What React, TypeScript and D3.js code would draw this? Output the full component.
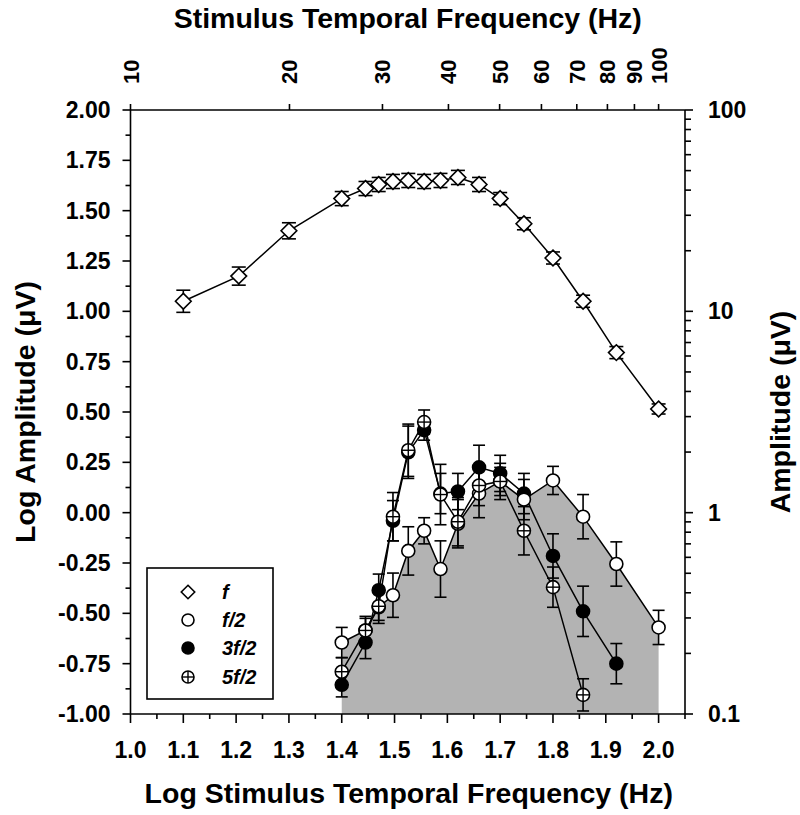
import React from "react";
import * as d3 from "d3";

// ---------- data ----------
const fLogFreq = [1.1, 1.205, 1.3, 1.4, 1.445, 1.47, 1.497, 1.526, 1.556, 1.587, 1.62, 1.66, 1.7, 1.745, 1.8, 1.857, 1.92, 2.0];
const fValues = [1.05, 1.175, 1.4, 1.56, 1.61, 1.63, 1.645, 1.65, 1.645, 1.65, 1.665, 1.63, 1.56, 1.435, 1.265, 1.05, 0.795, 0.515];
const fErrors = [0.055, 0.045, 0.04, 0.035, 0.035, 0.035, 0.035, 0.035, 0.035, 0.035, 0.035, 0.035, 0.03, 0.03, 0.03, 0.03, 0.03, 0.025];

const halfLogFreq = [1.4, 1.445, 1.47, 1.497, 1.526, 1.556, 1.587, 1.62, 1.66, 1.7, 1.745, 1.8, 1.857, 1.92, 2.0];
const halfValues = [-0.645, -0.585, -0.47, -0.41, -0.19, -0.09, -0.28, -0.055, 0.095, 0.155, 0.065, 0.16, -0.02, -0.255, -0.57];
const halfErrors = [0.075, 0.07, 0.08, 0.11, 0.12, 0.065, 0.14, 0.12, 0.12, 0.09, 0.1, 0.07, 0.11, 0.11, 0.085];

const threeHalfLogFreq = [1.4, 1.445, 1.47, 1.497, 1.526, 1.556, 1.587, 1.62, 1.66, 1.7, 1.745, 1.8, 1.857, 1.92];
const threeHalfValues = [-0.855, -0.645, -0.385, -0.04, 0.3, 0.41, 0.095, 0.105, 0.225, 0.195, 0.095, -0.215, -0.49, -0.75];
const threeHalfErrors = [0.06, 0.08, 0.08, 0.1, 0.13, 0.05, 0.1, 0.09, 0.11, 0.09, 0.1, 0.11, 0.125, 0.1];

const fiveHalfLogFreq = [1.4, 1.445, 1.47, 1.497, 1.526, 1.556, 1.587, 1.62, 1.66, 1.7, 1.745, 1.8, 1.857];
const fiveHalfValues = [-0.79, -0.585, -0.465, -0.02, 0.31, 0.45, 0.09, -0.045, 0.135, 0.155, -0.09, -0.37, -0.905];
const fiveHalfErrors = [0.07, 0.06, 0.07, 0.12, 0.13, 0.06, 0.15, 0.12, 0.1, 0.07, 0.12, 0.1, 0.08];

const xTickLabels = ["1.0", "1.1", "1.2", "1.3", "1.4", "1.5", "1.6", "1.7", "1.8", "1.9", "2.0"];
const yTickLabels = ["-1.00", "-0.75", "-0.50", "-0.25", "0.00", "0.25", "0.50", "0.75", "1.00", "1.25", "1.50", "1.75", "2.00"];
const topTickHz = [10, 20, 30, 40, 50, 60, 70, 80, 90, 100];
const rightMajor = [0.1, 1, 10, 100];
const rightLabels = ["0.1", "1", "10", "100"];
const legendLabels = ["f", "f/2", "3f/2", "5f/2"];

// ---------- layout ----------
const W = 800;
const H = 815;
const x = d3.scaleLinear().domain([1, 2.05]).range([130.5, 685]);
const y = d3.scaleLinear().domain([-1, 2]).range([714, 110]);
const yR = d3.scaleLog().domain([0.1, 100]).range([714, 110]);

const FONT = "'Liberation Sans', Arial, Helvetica, sans-serif";
const GRAY = "#b3b3b3";

type Kind = "diamond" | "open" | "filled" | "cross";

function Marker({ cx, cy, kind, s }: { cx: number; cy: number; kind: Kind; s: number }) {
  if (kind === "diamond") {
    const r = s * 1.12;
    return (
      <path
        d={`M${cx},${cy - r}L${cx + r},${cy}L${cx},${cy + r}L${cx - r},${cy}Z`}
        fill="white"
        stroke="black"
        strokeWidth={1.6}
      />
    );
  }
  if (kind === "cross") {
    return (
      <g>
        <circle cx={cx} cy={cy} r={s} fill="white" stroke="black" strokeWidth={1.6} />
        <line x1={cx - s} x2={cx + s} y1={cy} y2={cy} stroke="black" strokeWidth={1.4} />
        <line x1={cx} x2={cx} y1={cy - s} y2={cy + s} stroke="black" strokeWidth={1.4} />
      </g>
    );
  }
  return (
    <circle cx={cx} cy={cy} r={s} fill={kind === "filled" ? "black" : "white"} stroke="black" strokeWidth={1.6} />
  );
}

function Series({
  xs,
  vs,
  es,
  kind,
  cap,
  size,
}: {
  xs: number[];
  vs: number[];
  es: number[];
  kind: Kind;
  cap: number;
  size: number;
}) {
  const line = d3
    .line<number>()
    .x((_, i) => x(xs[i]))
    .y((v) => y(v));
  return (
    <g>
      <path d={line(vs) || ""} fill="none" stroke="black" strokeWidth={1.5} />
      {vs.map((v, i) => {
        const cx = x(xs[i]);
        const top = y(v + es[i]);
        const bot = y(v - es[i]);
        return (
          <g key={"e" + i} stroke="black" strokeWidth={1.6}>
            <line x1={cx} x2={cx} y1={top} y2={bot} />
            <line x1={cx - cap} x2={cx + cap} y1={top} y2={top} />
            <line x1={cx - cap} x2={cx + cap} y1={bot} y2={bot} />
          </g>
        );
      })}
      {vs.map((v, i) => (
        <Marker key={"m" + i} cx={x(xs[i])} cy={y(v)} kind={kind} s={size} />
      ))}
    </g>
  );
}

export default function App() {
  const area = d3
    .area<number>()
    .x((_, i) => x(halfLogFreq[i]))
    .y0(y(-1))
    .y1((v) => y(v));

  const yMajor = d3.range(0, 13).map((i) => -1 + i * 0.25);
  const yMinor = d3.range(0, 12).map((i) => -1 + 0.125 + i * 0.25);
  const xMajor = d3.range(0, 11).map((i) => 1 + i * 0.1);
  const xMinor = d3.range(0, 11).map((i) => 1.05 + i * 0.1);
  const rightMinor: number[] = [];
  [0.1, 1, 10].forEach((d) => {
    for (let k = 2; k <= 9; k++) rightMinor.push(d * k);
  });

  const x0 = x(1);
  const x1 = x(2.05);
  const yTop = y(2);
  const yBot = y(-1);
  const legendKinds: Kind[] = ["diamond", "open", "filled", "cross"];
  const legendRows = [592, 620, 648, 677];

  return (
    <svg
      width={W}
      height={H}
      viewBox={`0 0 ${W} ${H}`}
      style={{ position: "absolute", left: 0, top: 0, background: "white" }}
      fontFamily={FONT}
    >
      <rect x={0} y={0} width={W} height={H} fill="white" />
      {/* shaded area under f/2 */}
      <path d={area(halfValues) || ""} fill={GRAY} stroke="none" />

      {/* axes */}
      <g stroke="black" strokeWidth={1.6} fill="none">
        <line x1={x0} x2={x0} y1={yTop} y2={yBot} />
        <line x1={x1} x2={x1} y1={yTop} y2={yBot} />
        <line x1={x0} x2={x1} y1={yBot} y2={yBot} />
        <line x1={x0} x2={x1} y1={yTop} y2={yTop} />
        {yMajor.map((v) => (
          <line key={"ym" + v} x1={x0 - 8} x2={x0} y1={y(v)} y2={y(v)} />
        ))}
        {yMinor.map((v) => (
          <line key={"yn" + v} x1={x0 - 5} x2={x0} y1={y(v)} y2={y(v)} />
        ))}
        {xMajor.map((v) => (
          <line key={"xm" + v} x1={x(v)} x2={x(v)} y1={yBot} y2={yBot + 9} />
        ))}
        {xMinor.map((v) => (
          <line key={"xn" + v} x1={x(v)} x2={x(v)} y1={yBot} y2={yBot + 5} />
        ))}
        {topTickHz.map((hz) => (
          <line key={"t" + hz} x1={x(Math.log10(hz))} x2={x(Math.log10(hz))} y1={yTop} y2={yTop - 6} />
        ))}
        {rightMajor.map((v) => (
          <line key={"rm" + v} x1={x1} x2={x1 + 8} y1={yR(v)} y2={yR(v)} />
        ))}
        {rightMinor.map((v) => (
          <line key={"rn" + v} x1={x1} x2={x1 + 6} y1={yR(v)} y2={yR(v)} />
        ))}
      </g>

      {/* tick labels */}
      <g fontSize={23} fontWeight="bold" fill="black">
        {yMajor.map((v, i) => (
          <text key={"yl" + i} x={x0 - 20} y={y(v) + 8} textAnchor="end">
            {yTickLabels[i]}
          </text>
        ))}
        {xMajor.map((v, i) => (
          <text key={"xl" + i} x={x(v)} y={yBot + 44} textAnchor="middle">
            {xTickLabels[i]}
          </text>
        ))}
        {rightMajor.map((v, i) => (
          <text key={"rl" + i} x={x1 + 23} y={yR(v) + 8} textAnchor="start">
            {rightLabels[i]}
          </text>
        ))}
      </g>
      <g fontSize={22} fontWeight="bold" fill="black">
        {topTickHz.map((hz) => {
          const px = x(Math.log10(hz));
          return (
            <text key={"tl" + hz} transform={`translate(${px + 8},84) rotate(-90)`} textAnchor="start">
              {String(hz)}
            </text>
          );
        })}
      </g>

      {/* titles */}
      <g fontSize={28.5} fontWeight="bold" fill="black">
        <text x={(x0 + x1) / 2} y={28} textAnchor="middle">
          Stimulus Temporal Frequency (Hz)
        </text>
        <text x={(x0 + x1) / 2 + 1} y={803} textAnchor="middle">
          Log Stimulus Temporal Frequency (Hz)
        </text>
        <text transform={`translate(35,${(yTop + yBot) / 2}) rotate(-90)`} textAnchor="middle">
          Log Amplitude (μV)
        </text>
        <text transform={`translate(790,${(yTop + yBot) / 2}) rotate(-90)`} textAnchor="middle">
          Amplitude (μV)
        </text>
      </g>

      {/* series */}
      <Series xs={fLogFreq} vs={fValues} es={fErrors} kind="diamond" cap={7} size={7} />
      <Series xs={threeHalfLogFreq} vs={threeHalfValues} es={threeHalfErrors} kind="filled" cap={6} size={6.5} />
      <Series xs={halfLogFreq} vs={halfValues} es={halfErrors} kind="open" cap={6} size={6.5} />
      <Series xs={fiveHalfLogFreq} vs={fiveHalfValues} es={fiveHalfErrors} kind="cross" cap={6} size={6.5} />

      {/* legend */}
      <rect x={147} y={568} width={126} height={131} fill="white" stroke="black" strokeWidth={1.6} />
      {legendLabels.map((lab, i) => (
        <g key={"lg" + i}>
          <Marker cx={188} cy={legendRows[i]} kind={legendKinds[i]} s={6} />
          <text x={222} y={legendRows[i] + 7} fontSize={20} fontWeight="bold" fontStyle="italic" fill="black">
            {lab}
          </text>
        </g>
      ))}
    </svg>
  );
}
